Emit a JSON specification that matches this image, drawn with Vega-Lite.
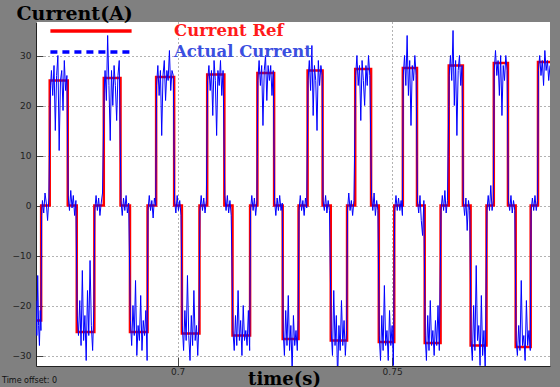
{
"$schema": "https://vega.github.io/schema/vega-lite/v6.json",
"width": 514, "height": 344,
"autosize": {"type": "none"},
"padding": {"left": 36, "top": 22, "right": 10, "bottom": 21},
"background": "#808080",
"title": {"text": "Time offset:  0", "orient": "bottom", "anchor": "start", "frame": "group", "font": "DejaVu Sans", "fontSize": 8, "fontWeight": "normal", "color": "#111", "dx": -34, "dy": -15},
"datasets": {
"ref": [{"t":0.667,"v":-23},{"t":0.6682,"v":0},{"t":0.6702,"v":25},{"t":0.6744,"v":0},{"t":0.6765,"v":-25.3},{"t":0.6806,"v":0},{"t":0.6828,"v":25.5},{"t":0.6867,"v":0},{"t":0.6889,"v":-25.3},{"t":0.693,"v":0},{"t":0.695,"v":25.7},{"t":0.6992,"v":0},{"t":0.701,"v":-25.6},{"t":0.7051,"v":0},{"t":0.7069,"v":26.2},{"t":0.7109,"v":0},{"t":0.7128,"v":-26},{"t":0.7169,"v":0},{"t":0.7186,"v":26.5},{"t":0.7225,"v":0},{"t":0.7245,"v":-26.7},{"t":0.7282,"v":0},{"t":0.7303,"v":27},{"t":0.7338,"v":0},{"t":0.7357,"v":-27},{"t":0.7395,"v":0},{"t":0.7414,"v":27.3},{"t":0.7451,"v":0},{"t":0.7469,"v":-27.3},{"t":0.7505,"v":0},{"t":0.7525,"v":27.5},{"t":0.7558,"v":0},{"t":0.7576,"v":-27.5},{"t":0.7613,"v":0},{"t":0.7632,"v":28},{"t":0.7665,"v":0},{"t":0.7683,"v":-28},{"t":0.772,"v":0},{"t":0.7737,"v":28.5},{"t":0.777,"v":0},{"t":0.7788,"v":-28.3},{"t":0.7823,"v":0},{"t":0.784,"v":28.7},{"t":0.7868,"v":28.7}],
"act": [
{"t":0.667,"v":-19},{"t":0.6672,"v":-26},{"t":0.6674,"v":-14},{"t":0.6676,"v":-24},{"t":0.6678,"v":-28},{"t":0.668,"v":-21},{"t":0.66815,"v":-25},
{"t":0.6683,"v":-2},{"t":0.6685,"v":1},{"t":0.6688,"v":-1.5},{"t":0.6691,"v":2.5},{"t":0.6694,"v":0.5},{"t":0.6697,"v":-3},{"t":0.67,"v":1.5},
{"t":0.6703,"v":20},{"t":0.6704,"v":24},{"t":0.6706,"v":27},{"t":0.6709,"v":22},{"t":0.6712,"v":28},{"t":0.6715,"v":15},{"t":0.6718,"v":26},{"t":0.6721,"v":30},{"t":0.6724,"v":11},{"t":0.6727,"v":25},{"t":0.673,"v":27},{"t":0.6733,"v":19},{"t":0.6736,"v":29},{"t":0.6739,"v":23},{"t":0.6742,"v":26},
{"t":0.6745,"v":2},{"t":0.6748,"v":-1},{"t":0.6751,"v":3},{"t":0.6754,"v":-0.5},{"t":0.6757,"v":2},{"t":0.676,"v":-2},{"t":0.6763,"v":1},
{"t":0.6766,"v":-22},{"t":0.6769,"v":-26},{"t":0.6772,"v":-19},{"t":0.6775,"v":-28},{"t":0.6778,"v":-13},{"t":0.6781,"v":-27},{"t":0.6784,"v":-22},{"t":0.6787,"v":-31},{"t":0.679,"v":-17},{"t":0.6793,"v":-26},{"t":0.6796,"v":-11},{"t":0.6799,"v":-24},{"t":0.6802,"v":-29},{"t":0.6805,"v":-20},
{"t":0.6807,"v":-1},{"t":0.681,"v":2},{"t":0.6813,"v":-1},{"t":0.6816,"v":1.5},{"t":0.6819,"v":-2},{"t":0.6822,"v":0.5},{"t":0.6825,"v":2.5},
{"t":0.6829,"v":23},{"t":0.6831,"v":27},{"t":0.6834,"v":21},{"t":0.6837,"v":34},{"t":0.684,"v":24},{"t":0.6843,"v":13},{"t":0.6846,"v":27},{"t":0.6849,"v":20},{"t":0.6852,"v":28},{"t":0.6855,"v":24},{"t":0.6858,"v":17},{"t":0.6861,"v":26},{"t":0.6864,"v":29},
{"t":0.6868,"v":1},{"t":0.6871,"v":-2},{"t":0.6874,"v":1.5},{"t":0.6877,"v":-1},{"t":0.688,"v":2},{"t":0.6883,"v":-1.5},{"t":0.6886,"v":0.5},
{"t":0.689,"v":-23},{"t":0.6893,"v":-28},{"t":0.6896,"v":-20},{"t":0.6899,"v":-26},{"t":0.6902,"v":-15},{"t":0.6905,"v":-30},{"t":0.6908,"v":-24},{"t":0.6911,"v":-27},{"t":0.6914,"v":-18},{"t":0.6917,"v":-29},{"t":0.692,"v":-23},{"t":0.6923,"v":-26},{"t":0.6926,"v":-21},{"t":0.6929,"v":-31},
{"t":0.6931,"v":-1},{"t":0.6934,"v":2},{"t":0.6937,"v":-1},{"t":0.694,"v":1},{"t":0.6943,"v":-2.5},{"t":0.6946,"v":1.5},{"t":0.6949,"v":0},
{"t":0.6951,"v":24},{"t":0.6954,"v":28},{"t":0.6957,"v":22},{"t":0.696,"v":27},{"t":0.6963,"v":14},{"t":0.6966,"v":26},{"t":0.6969,"v":29},{"t":0.6972,"v":21},{"t":0.6975,"v":27},{"t":0.6978,"v":25},{"t":0.6981,"v":31},{"t":0.6984,"v":23},{"t":0.6987,"v":27},{"t":0.699,"v":26},
{"t":0.6993,"v":1},{"t":0.6996,"v":-1.5},{"t":0.6999,"v":2},{"t":0.7002,"v":-1},{"t":0.7005,"v":1},{"t":0.7008,"v":-2},
{"t":0.7011,"v":-24},{"t":0.7014,"v":-29},{"t":0.7017,"v":-21},{"t":0.702,"v":-27},{"t":0.7023,"v":-14},{"t":0.7026,"v":-26},{"t":0.7029,"v":-31},{"t":0.7032,"v":-22},{"t":0.7035,"v":-28},{"t":0.7038,"v":-17},{"t":0.7041,"v":-27},{"t":0.7044,"v":-24},{"t":0.7047,"v":-30},{"t":0.705,"v":-23},
{"t":0.7052,"v":-1},{"t":0.7055,"v":2},{"t":0.7058,"v":-1},{"t":0.7061,"v":1.5},{"t":0.7064,"v":-1.5},{"t":0.7067,"v":1},
{"t":0.707,"v":25},{"t":0.7073,"v":28},{"t":0.7076,"v":23},{"t":0.7079,"v":27},{"t":0.7082,"v":18},{"t":0.7085,"v":29},{"t":0.7088,"v":25},{"t":0.7091,"v":14},{"t":0.7094,"v":27},{"t":0.7097,"v":24},{"t":0.71,"v":29},{"t":0.7103,"v":22},{"t":0.7106,"v":27},
{"t":0.711,"v":2},{"t":0.7113,"v":-1},{"t":0.7116,"v":2},{"t":0.7119,"v":-1.5},{"t":0.7122,"v":1},{"t":0.7125,"v":-2},
{"t":0.7129,"v":-25},{"t":0.7132,"v":-29},{"t":0.7135,"v":-22},{"t":0.7138,"v":-28},{"t":0.7141,"v":-17},{"t":0.7144,"v":-27},{"t":0.7147,"v":-23},{"t":0.715,"v":-30},{"t":0.7153,"v":-20},{"t":0.7156,"v":-27},{"t":0.7159,"v":-25},{"t":0.7162,"v":-28},{"t":0.7165,"v":-21},{"t":0.7168,"v":-29},
{"t":0.717,"v":-1},{"t":0.7173,"v":2},{"t":0.7176,"v":-1},{"t":0.7179,"v":1.5},{"t":0.7182,"v":-2},{"t":0.7185,"v":1},
{"t":0.7187,"v":25},{"t":0.719,"v":29},{"t":0.7193,"v":24},{"t":0.7196,"v":28},{"t":0.7199,"v":16},{"t":0.7202,"v":27},{"t":0.7205,"v":30},{"t":0.7208,"v":21},{"t":0.7211,"v":28},{"t":0.7214,"v":25},{"t":0.7217,"v":28},{"t":0.722,"v":22},{"t":0.7223,"v":27},
{"t":0.7226,"v":1},{"t":0.7229,"v":-2},{"t":0.7232,"v":1.5},{"t":0.7235,"v":-1},{"t":0.7238,"v":2},{"t":0.7241,"v":-1},{"t":0.7244,"v":0.5},
{"t":0.7246,"v":-25},{"t":0.7249,"v":-30},{"t":0.7252,"v":-21},{"t":0.7255,"v":-28},{"t":0.7258,"v":-18},{"t":0.7261,"v":-29},{"t":0.7264,"v":-24},{"t":0.7267,"v":-33},{"t":0.727,"v":-22},{"t":0.7273,"v":-28},{"t":0.7276,"v":-25},{"t":0.7279,"v":-29},{"t":0.7281,"v":-23},
{"t":0.7283,"v":-1},{"t":0.7286,"v":2},{"t":0.7289,"v":-1},{"t":0.7292,"v":1},{"t":0.7295,"v":-2},{"t":0.7298,"v":1.5},{"t":0.7301,"v":-0.5},
{"t":0.7304,"v":25},{"t":0.7307,"v":29},{"t":0.731,"v":23},{"t":0.7313,"v":32},{"t":0.7316,"v":18},{"t":0.7319,"v":28},{"t":0.7322,"v":25},{"t":0.7325,"v":15},{"t":0.7328,"v":29},{"t":0.7331,"v":24},{"t":0.7334,"v":28},{"t":0.7337,"v":26},
{"t":0.7339,"v":1},{"t":0.7342,"v":-1},{"t":0.7345,"v":2},{"t":0.7348,"v":-1.5},{"t":0.7351,"v":1},{"t":0.7354,"v":-1},
{"t":0.7358,"v":-25},{"t":0.7361,"v":-30},{"t":0.7364,"v":-17},{"t":0.7367,"v":-28},{"t":0.737,"v":-22},{"t":0.7373,"v":-35},{"t":0.7376,"v":-24},{"t":0.7379,"v":-29},{"t":0.7382,"v":-19},{"t":0.7385,"v":-28},{"t":0.7388,"v":-23},{"t":0.7391,"v":-30},{"t":0.7394,"v":-25},
{"t":0.7396,"v":-1},{"t":0.7399,"v":2.5},{"t":0.7402,"v":-1},{"t":0.7405,"v":1},{"t":0.7408,"v":-2},{"t":0.7411,"v":1},
{"t":0.7415,"v":26},{"t":0.7418,"v":30},{"t":0.7421,"v":24},{"t":0.7424,"v":28},{"t":0.7427,"v":17},{"t":0.743,"v":29},{"t":0.7433,"v":25},{"t":0.7436,"v":20},{"t":0.7439,"v":28},{"t":0.7442,"v":24},{"t":0.7445,"v":30},{"t":0.7448,"v":26},
{"t":0.7452,"v":2},{"t":0.7455,"v":-1},{"t":0.7458,"v":2.5},{"t":0.7461,"v":-2},{"t":0.7464,"v":1},{"t":0.7467,"v":-1},
{"t":0.747,"v":-26},{"t":0.7473,"v":-31},{"t":0.7476,"v":-22},{"t":0.7479,"v":-29},{"t":0.7482,"v":-16},{"t":0.7485,"v":-28},{"t":0.7488,"v":-25},{"t":0.7491,"v":-31},{"t":0.7494,"v":-21},{"t":0.7497,"v":-28},{"t":0.75,"v":-24},{"t":0.7503,"v":-32},
{"t":0.7506,"v":-1},{"t":0.7509,"v":2},{"t":0.7512,"v":-1},{"t":0.7515,"v":1.5},{"t":0.7518,"v":-1},{"t":0.7521,"v":1},{"t":0.7524,"v":-2},
{"t":0.7526,"v":26},{"t":0.7529,"v":30},{"t":0.7532,"v":24},{"t":0.7535,"v":34},{"t":0.7538,"v":22},{"t":0.7541,"v":29},{"t":0.7544,"v":16},{"t":0.7547,"v":28},{"t":0.755,"v":25},{"t":0.7553,"v":30},{"t":0.7556,"v":26},
{"t":0.7559,"v":1},{"t":0.7562,"v":-1.5},{"t":0.7565,"v":2},{"t":0.7568,"v":-3},{"t":0.7571,"v":-6},{"t":0.7574,"v":1},
{"t":0.7577,"v":-26},{"t":0.758,"v":-31},{"t":0.7583,"v":-22},{"t":0.7586,"v":-29},{"t":0.7589,"v":-19},{"t":0.7592,"v":-28},{"t":0.7595,"v":-25},{"t":0.7598,"v":-30},{"t":0.7601,"v":-23},{"t":0.7604,"v":-28},{"t":0.7607,"v":-20},{"t":0.761,"v":-29},
{"t":0.7614,"v":-1},{"t":0.7617,"v":2},{"t":0.762,"v":-1},{"t":0.7623,"v":3},{"t":0.7626,"v":-1.5},{"t":0.7629,"v":1},
{"t":0.7633,"v":26},{"t":0.7636,"v":30},{"t":0.7639,"v":25},{"t":0.7642,"v":35},{"t":0.7645,"v":20},{"t":0.7648,"v":29},{"t":0.7651,"v":14},{"t":0.7654,"v":27},{"t":0.7657,"v":30},{"t":0.766,"v":24},{"t":0.7663,"v":28},
{"t":0.7666,"v":1},{"t":0.7669,"v":-2},{"t":0.7672,"v":1.5},{"t":0.7675,"v":-5},{"t":0.7678,"v":1},{"t":0.7681,"v":-1},
{"t":0.7684,"v":-27},{"t":0.7687,"v":-31},{"t":0.769,"v":-20},{"t":0.7693,"v":-29},{"t":0.7696,"v":-12},{"t":0.7699,"v":-27},{"t":0.7702,"v":-24},{"t":0.7705,"v":-32},{"t":0.7708,"v":-18},{"t":0.7711,"v":-30},{"t":0.7714,"v":-25},{"t":0.7717,"v":-33},
{"t":0.7721,"v":-1},{"t":0.7724,"v":2},{"t":0.7727,"v":-1},{"t":0.773,"v":4},{"t":0.7733,"v":-1},{"t":0.7736,"v":1},
{"t":0.7738,"v":27},{"t":0.7741,"v":31},{"t":0.7744,"v":26},{"t":0.7747,"v":29},{"t":0.775,"v":22},{"t":0.7753,"v":30},{"t":0.7756,"v":18},{"t":0.7759,"v":28},{"t":0.7762,"v":25},{"t":0.7765,"v":30},{"t":0.7768,"v":27},
{"t":0.7771,"v":1},{"t":0.7774,"v":-1},{"t":0.7777,"v":2},{"t":0.778,"v":-1.5},{"t":0.7783,"v":1},{"t":0.7786,"v":-1},
{"t":0.7789,"v":-27},{"t":0.7792,"v":-30},{"t":0.7795,"v":-24},{"t":0.7798,"v":-29},{"t":0.7801,"v":-15},{"t":0.7804,"v":-28},{"t":0.7807,"v":-26},{"t":0.781,"v":-31},{"t":0.7813,"v":-19},{"t":0.7816,"v":-28},{"t":0.7819,"v":-25},{"t":0.7822,"v":-29},
{"t":0.7824,"v":-1},{"t":0.7827,"v":1.5},{"t":0.783,"v":-1},{"t":0.7833,"v":2},{"t":0.7836,"v":-1},{"t":0.7839,"v":1},
{"t":0.7841,"v":27},{"t":0.7844,"v":30},{"t":0.7847,"v":26},{"t":0.785,"v":29},{"t":0.7853,"v":24},{"t":0.7856,"v":31},{"t":0.7859,"v":27},{"t":0.7862,"v":29},{"t":0.7865,"v":25},{"t":0.7868,"v":28}
]
},
"encoding": {
"x": {"field": "t", "type": "quantitative", "scale": {"domain": [0.667, 0.7868], "nice": false, "zero": false},
  "axis": {"values": [0.7, 0.75], "format": "~g", "title": "time(s)", "tickSize": -9, "labelPadding": 10, "titleX": 248, "titleY": 13, "titleAlign": "center", "titleBaseline": "middle", "titleFontSize": 18}},
"y": {"field": "v", "type": "quantitative", "scale": {"domain": [-32.1, 36.7], "nice": false, "zero": false},
  "axis": {"values": [-30, -20, -10, 0, 10, 20, 30], "title": "Current(A)", "tickSize": -7, "labelPadding": 12, "titleAngle": 0, "titleAlign": "left", "titleBaseline": "middle", "titleX": -20, "titleY": -9}}
},
"layer": [
{"data": {"name": "ref"}, "mark": {"type": "line", "interpolate": "step-after", "strokeWidth": 2.5, "clip": true},
 "encoding": {"color": {"datum": "Current Ref", "type": "nominal",
   "scale": {"domain": ["Current Ref", "Actual Current"], "range": ["#ff0000", "#0000ff"]},
   "legend": {"orient": "none", "legendX": 46, "legendY": 0, "title": null, "symbolType": "M-5.8,0H5.8", "symbolSize": 196, "symbolStrokeWidth": 3.5, "labelFont": "DejaVu Serif", "labelFontSize": 16.5, "labelFontWeight": "bold", "labelOffset": 74, "padding": 0, "rowPadding": 3,
     "encoding": {"labels": {"fill": {"condition": {"test": "datum.label === 'Current Ref'", "value": "#ff1a1a"}, "value": "#3b4fe0"}},
                  "symbols": {"strokeDash": {"condition": {"test": "datum.label === 'Actual Current'", "value": [7, 5]}, "value": [1, 0]}}}}}}},
{"data": {"name": "act"}, "mark": {"type": "line", "strokeWidth": 1, "clip": true},
 "encoding": {"color": {"datum": "Actual Current", "type": "nominal"}}}
],
"config": {
"view": {"fill": "white", "stroke": null},
"axis": {"grid": true, "gridColor": "#666", "gridDash": [1, 3], "gridWidth": 1, "domainColor": "#222", "tickColor": "#444", "labelFont": "DejaVu Sans", "labelFontSize": 9, "labelColor": "#222", "titleFont": "DejaVu Serif", "titleFontSize": 19, "titleFontWeight": "bold", "titleColor": "#000"}
}
}
